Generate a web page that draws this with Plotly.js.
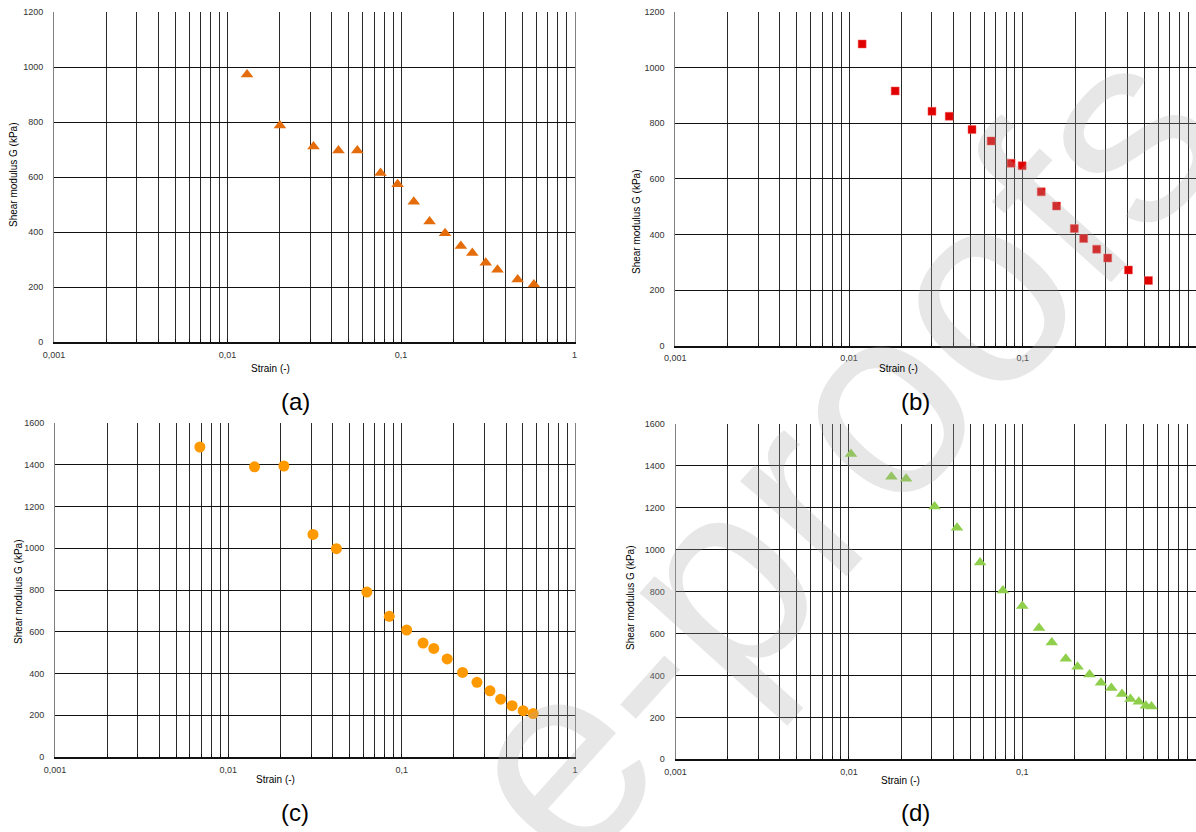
<!DOCTYPE html>
<html>
<head>
<meta charset="utf-8">
<script src="https://cdn.plot.ly/plotly-3.0.1.min.js"></script>
<style>html,body{margin:0;padding:0;background:#fff;}#chart{width:1196px;height:832px;}</style>
</head>
<body>
<div id="chart"></div>
<script>
// ---- Data ----
const strainA = [0.01296,0.02006,0.0313,0.0436,0.0560,0.0762,0.0956,0.1185,0.1461,0.1795,0.2213,0.2576,0.3079,0.3599,0.4705,0.5831];
const gA      = [973,788,711,697,697,615,574,511,439,396,350,324,289,264,228,210];

const strainB = [0.01189,0.01842,0.0300,0.0377,0.0510,0.0657,0.0856,0.0991,0.1276,0.1563,0.1978,0.2239,0.266,0.3079,0.4052,0.5287];
const gB      = [1085,916,843,825,777,736,656,647,553,502,421,385,347,315,272,234];

const strainC = [0.00685,0.01416,0.02091,0.03079,0.04203,0.0630,0.0848,0.1069,0.1329,0.1532,0.183,0.2245,0.2719,0.3233,0.3726,0.4336,0.5022,0.5737];
const gC      = [1485,1390,1394,1066,998,790,674,608,546,520,470,405,358,317,277,246,222,208];

const strainD = [0.01028,0.01758,0.02138,0.03119,0.04203,0.0571,0.0773,0.100,0.1249,0.1479,0.1782,0.2083,0.2443,0.2842,0.3263,0.3759,0.4203,0.4696,0.5158,0.5559];
const gD      = [1456,1348,1338,1206,1104,939,805,731,626,557,479,441,405,365,340,311,287,275,255,252];

const xTickVals = [];
const xTickText = [];
[0.001,0.01,0.1].forEach(function(dec){
  for (let m=1;m<=9;m++){ xTickVals.push(+(m*dec).toPrecision(3)); xTickText.push(m===1 ? String(dec).replace('.',',') : ''); }
});
xTickVals.push(1); xTickText.push('1');

const xTitle = 'Strain (-)';
const yTitle = 'Shear modulus G (kPa)';
const panelLabels = ['(a)','(b)','(c)','(d)'];
const watermark = 'e-proofs';

// ---- Layout helpers ----
const W = 1196, H = 832;
const px = x => x / W;
const py = y => 1 - y / H;

const fontStd = 'Liberation Sans, Arial, sans-serif';
const fontNarrow = 'Liberation Sans Narrow, Liberation Sans, Arial, sans-serif';

function xaxis(x0, x1, anchor, fam, rEnd){
  return {
    type:'log', domain:[px(x0), Math.min(1, px(x1))], range:[-3, rEnd], anchor:anchor,
    tickmode:'array', tickvals:xTickVals, ticktext:xTickText,
    showgrid:true, gridcolor:'#2a2a2a', gridwidth:1,
    showline:true, linecolor:'#111', linewidth:2, mirror:false,
    ticks:'inside', ticklen:3, tickcolor:'#111',
    tickfont:{family:fam, size:9, color:'#333'}, ticklabelstandoff:3,
    zeroline:false, fixedrange:true
  };
}
function yaxis(y0, y1, anchor, ymax, fam){
  return {
    domain:[py(y1), py(y0)], range:[0, ymax], anchor:anchor, dtick:200, tick0:0,
    showgrid:true, gridcolor:'#111', gridwidth:1,
    showline:true, linecolor:'#808080', linewidth:1, mirror:true,
    ticks:'', tickfont:{family:fam, size:9, color:'#333'}, ticklabelstandoff:8,
    zeroline:false, fixedrange:true
  };
}

const traces = [
  {x:strainA, y:gA, xaxis:'x', yaxis:'y', mode:'markers', type:'scatter',
   marker:{symbol:'triangle-up', size:11, color:'#E46C0A'}},
  {x:strainB, y:gB, xaxis:'x2', yaxis:'y2', mode:'markers', type:'scatter',
   marker:{symbol:'square', size:8, color:'#E00000', line:{color:'#F26060', width:0.5}}},
  {x:strainC, y:gC, xaxis:'x3', yaxis:'y3', mode:'markers', type:'scatter',
   marker:{symbol:'circle', size:11, color:'#FF9900'}},
  {x:strainD, y:gD, xaxis:'x4', yaxis:'y4', mode:'markers', type:'scatter',
   marker:{symbol:'triangle-up', size:11, color:'#8FCF4B'}}
];

function ann(text, x, y, size, fam, angle){
  return {text:text, xref:'paper', yref:'paper', x:px(x), y:py(y), showarrow:false,
          xanchor:'center', yanchor:'middle', textangle:angle||0,
          font:{family:fam, size:size, color:'#000'}};
}

const annotations = [
  // watermark
  {text:watermark, xref:'paper', yref:'paper', x:px(835), y:py(450), showarrow:false,
   xanchor:'center', yanchor:'middle', textangle:-48,
   font:{family:fontStd, size:270, color:'rgba(170,170,170,0.28)'}},
  ann(xTitle, 270, 368, 10, fontStd),
  ann(xTitle, 898, 368, 10, fontStd),
  ann(xTitle, 275, 779, 10, fontNarrow),
  ann(xTitle, 900, 780, 10, fontNarrow),
  ann(yTitle, 14, 175, 10, fontStd, -90),
  ann(yTitle, 636, 222, 10, fontStd, -90),
  ann(yTitle, 18, 592, 10, fontNarrow, -90),
  ann(yTitle, 630, 598, 10, fontNarrow, -90),
  ann(panelLabels[0], 295, 401, 24, fontStd),
  ann(panelLabels[1], 915, 401, 24, fontStd),
  ann(panelLabels[2], 295, 812, 24, fontNarrow),
  ann(panelLabels[3], 915, 812, 24, fontNarrow)
];

const layout = {
  width:W, height:H, autosize:false,
  margin:{l:0,r:0,t:0,b:0,pad:0},
  paper_bgcolor:'#fff', plot_bgcolor:'#fff',
  showlegend:false,
  xaxis:  xaxis(54, 574.5, 'y', fontStd, 0),
  yaxis:  yaxis(12, 342.3, 'x', 1200, fontStd),
  xaxis2: xaxis(675.3, 1196, 'y2', fontStd, -0.0035),
  yaxis2: yaxis(12, 345.6, 'x2', 1200, fontStd),
  xaxis3: xaxis(55, 575, 'y3', fontNarrow, 0),
  yaxis3: yaxis(423, 757, 'x3', 1600, fontNarrow),
  xaxis4: xaxis(675.5, 1195.7, 'y4', fontNarrow, 0),
  yaxis4: yaxis(423.8, 759.3, 'x4', 1600, fontNarrow),
  annotations: annotations
};

Plotly.newPlot('chart', traces, layout, {staticPlot:true, displayModeBar:false});
</script>
</body>
</html>
